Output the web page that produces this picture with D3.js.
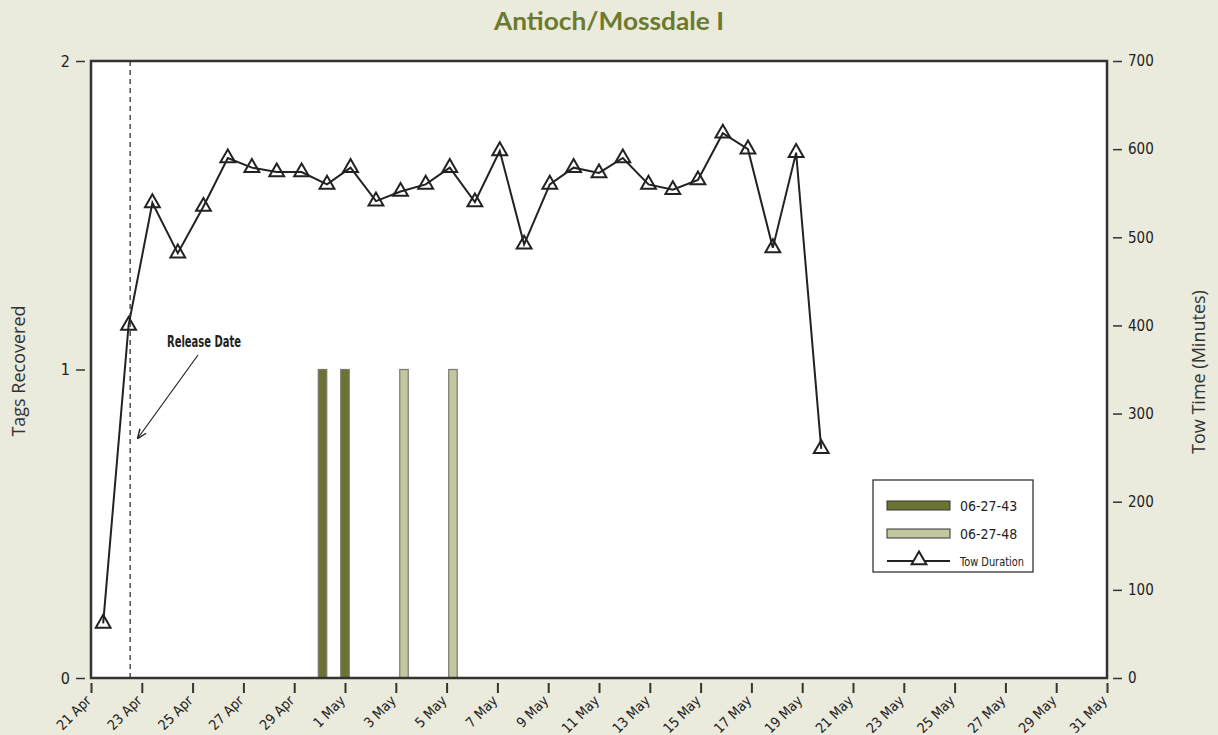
<!DOCTYPE html>
<html>
<head>
<meta charset="utf-8">
<script src="https://cdn.jsdelivr.net/npm/d3@7"></script>
<style>
  body { margin: 0; background: #eaeadd; }
  svg { display: block; }
  .cond, .cond text { font-family: "DejaVu Sans", sans-serif; font-stretch: condensed; }
</style>
</head>
<body>
<svg id="chart"></svg>
<script>
// tow times (minutes) with tow start times
var towDates = ["2006-04-21 11:30", "2006-04-22 11:30", "2006-04-23 10:00", "2006-04-24 10:00", "2006-04-25 10:15",
  "2006-04-26 09:15", "2006-04-27 08:00", "2006-04-28 07:30", "2006-04-29 07:00", "2006-04-30 07:00",
  "2006-05-01 05:15", "2006-05-02 05:15", "2006-05-03 04:30", "2006-05-04 04:15", "2006-05-05 03:00",
  "2006-05-06 02:45", "2006-05-07 02:15", "2006-05-08 01:15", "2006-05-09 01:30", "2006-05-10 00:00",
  "2006-05-11 00:00", "2006-05-11 22:30", "2006-05-12 22:45", "2006-05-13 21:45", "2006-05-14 21:30",
  "2006-05-15 21:00", "2006-05-16 20:45", "2006-05-17 20:15", "2006-05-18 18:15", "2006-05-19 18:00"];
var towMinutes = [62, 400, 539, 482, 535, 590, 579, 574, 574, 560,
  579, 541, 552, 560, 579, 540, 598, 492, 560, 579,
  573, 590, 560, 554, 565, 618, 600, 488, 596, 260];

// tag recoveries
var tag43Dates = ["2006-04-30 02:45", "2006-05-01 00:00"];
var tag43Counts = [1, 1];
var tag48Dates = ["2006-05-03 07:45", "2006-05-05 06:00"];
var tag48Counts = [1, 1];

var releaseDate = "2006-04-22 13:00";
var xTickLabels = ["2006-04-21", "2006-04-23", "2006-04-25", "2006-04-27", "2006-04-29", "2006-05-01",
  "2006-05-03", "2006-05-05", "2006-05-07", "2006-05-09", "2006-05-11", "2006-05-13", "2006-05-15",
  "2006-05-17", "2006-05-19", "2006-05-21", "2006-05-23", "2006-05-25", "2006-05-27", "2006-05-29", "2006-05-31"];
var leftTicks = [0, 1, 2];
var rightTicks = [0, 100, 200, 300, 400, 500, 600, 700];

var svgWidth = 1218;
var svgHeight = 735;
var plotLeft = 91, plotRight = 1107, plotTop = 61, plotBottom = 678;

var parseTime = d3.timeParse("%Y-%m-%d %H:%M");
var parseDay = d3.timeParse("%Y-%m-%d");

var svg = d3.select("#chart")
    .attr("width", svgWidth)
    .attr("height", svgHeight);

var x = d3.scaleTime()
    .domain([parseDay("2006-04-21"), parseDay("2006-05-31")])
    .range([plotLeft, plotRight]);
var yLeft = d3.scaleLinear().domain([0, 2]).range([plotBottom, plotTop]);
var yRight = d3.scaleLinear().domain([0, 700]).range([plotBottom, plotTop]);

// plot background
svg.append("rect")
    .attr("x", plotLeft).attr("y", plotTop)
    .attr("width", plotRight - plotLeft).attr("height", plotBottom - plotTop)
    .attr("fill", "#fff");

// title
svg.append("text")
    .attr("x", 609).attr("y", 30)
    .attr("text-anchor", "middle")
    .attr("font-family", "Lato, 'Open Sans', sans-serif")
    .attr("font-weight", "bold")
    .attr("font-size", "24px")
    .attr("textLength", 230)
    .attr("lengthAdjust", "spacingAndGlyphs")
    .attr("fill", "#6b7a2c")
    .text("Antioch/Mossdale I");

// release date line
svg.append("line")
    .attr("x1", x(parseTime(releaseDate))).attr("x2", x(parseTime(releaseDate)))
    .attr("y1", plotTop).attr("y2", plotBottom)
    .attr("stroke", "#333").attr("stroke-width", 1.3)
    .attr("stroke-dasharray", "5,4");

// bars
var barWidth = 8.5;
function drawBars(dates, counts, color) {
    svg.append("g").selectAll("rect")
        .data(counts)
        .enter()
        .append("rect")
        .attr("x", function(d, i) { return x(parseTime(dates[i])) - barWidth / 2; })
        .attr("y", function(d) { return yLeft(d); })
        .attr("width", barWidth)
        .attr("height", function(d) { return yLeft(0) - yLeft(d); })
        .attr("fill", color)
        .attr("stroke", "#7a7a72")
        .attr("stroke-width", 1.2);
}
drawBars(tag43Dates, tag43Counts, "#6c7332");
drawBars(tag48Dates, tag48Counts, "#c3c69f");

// tow duration line
var towData = towDates.map(function(d, i) { return { date: parseTime(d), value: towMinutes[i] }; });
var line = d3.line()
    .x(function(d) { return x(d.date); })
    .y(function(d) { return yRight(d.value); });

svg.append("path")
    .datum(towData)
    .attr("d", line)
    .attr("fill", "none")
    .attr("stroke", "#222")
    .attr("stroke-width", 2);

var tri = d3.symbol().type(d3.symbolTriangle).size(95);
svg.append("g").selectAll("path")
    .data(towData)
    .enter()
    .append("path")
    .attr("d", tri)
    .attr("transform", function(d) { return "translate(" + x(d.date) + "," + yRight(d.value) + ")"; })
    .attr("fill", "none")
    .attr("stroke", "#222")
    .attr("stroke-width", 2);

// frame
svg.append("rect")
    .attr("x", plotLeft).attr("y", plotTop)
    .attr("width", plotRight - plotLeft).attr("height", plotBottom - plotTop)
    .attr("fill", "none")
    .attr("stroke", "#333")
    .attr("stroke-width", 2.5);

// axes
var xAxis = svg.append("g")
    .attr("class", "cond")
    .attr("transform", "translate(0," + (plotBottom + 5) + ")")
    .call(d3.axisBottom(x)
        .tickValues(xTickLabels.map(parseDay))
        .tickFormat(d3.timeFormat("%-d %b"))
        .tickSize(10)
        .tickSizeOuter(0));
xAxis.select(".domain").remove();
xAxis.selectAll(".tick line").attr("stroke", "#333").attr("stroke-width", 2);
xAxis.selectAll(".tick text")
    .attr("x", 0).attr("y", 0).attr("dy", "0.35em")
    .attr("text-anchor", "end")
    .attr("transform", "translate(-3,15) rotate(-45)")
    .attr("font-size", "14px")
    .attr("fill", "#222");

var leftAxis = svg.append("g")
    .attr("class", "cond")
    .attr("transform", "translate(" + (plotLeft - 6) + ",0)")
    .call(d3.axisLeft(yLeft).tickValues(leftTicks).tickFormat(d3.format("d")).tickSize(9).tickPadding(6).tickSizeOuter(0));
leftAxis.select(".domain").remove();
leftAxis.selectAll(".tick line").attr("stroke", "#333").attr("stroke-width", 1.5);
leftAxis.selectAll(".tick text").attr("font-size", "16px").attr("fill", "#222");

var rightAxis = svg.append("g")
    .attr("class", "cond")
    .attr("transform", "translate(" + (plotRight + 6) + ",0)")
    .call(d3.axisRight(yRight).tickValues(rightTicks).tickSize(9).tickPadding(6).tickSizeOuter(0));
rightAxis.select(".domain").remove();
rightAxis.selectAll(".tick line").attr("stroke", "#333").attr("stroke-width", 1.5);
rightAxis.selectAll(".tick text").attr("font-size", "15px").attr("fill", "#222");

// axis titles
svg.append("text")
    .attr("transform", "translate(25," + 371 + ") rotate(-90)")
    .attr("text-anchor", "middle")
    .attr("font-family", "'Open Sans', sans-serif")
    .attr("font-size", "18px")
    .attr("fill", "#333")
    .text("Tags Recovered");
svg.append("text")
    .attr("transform", "translate(1205," + 372 + ") rotate(-90)")
    .attr("text-anchor", "middle")
    .attr("font-family", "'Open Sans', sans-serif")
    .attr("font-size", "18px")
    .attr("fill", "#333")
    .text("Tow Time (Minutes)");

// release date annotation
svg.append("defs").append("marker")
    .attr("id", "arrow")
    .attr("viewBox", "0 0 10 10")
    .attr("refX", 9).attr("refY", 5)
    .attr("markerWidth", 8).attr("markerHeight", 8)
    .attr("orient", "auto")
    .append("path")
    .attr("d", "M0,1 L10,5 L0,9")
    .attr("fill", "none")
    .attr("stroke", "#222")
    .attr("stroke-width", 1.5);
svg.append("line")
    .attr("x1", 198).attr("y1", 355)
    .attr("x2", 138).attr("y2", 438)
    .attr("stroke", "#222").attr("stroke-width", 1.2)
    .attr("marker-end", "url(#arrow)");
svg.append("text")
    .attr("class", "cond")
    .attr("x", 204).attr("y", 347)
    .attr("text-anchor", "middle")
    .attr("font-size", "15px")
    .attr("font-weight", "bold")
    .attr("textLength", 74)
    .attr("lengthAdjust", "spacingAndGlyphs")
    .attr("fill", "#222")
    .text("Release Date");

// legend
var legend = svg.append("g").attr("class", "cond");
legend.append("rect")
    .attr("x", 873).attr("y", 480).attr("width", 160).attr("height", 92)
    .attr("fill", "#fff").attr("stroke", "#333").attr("stroke-width", 1.3);
var legendItems = [
    { label: "06-27-43", color: "#6c7332" },
    { label: "06-27-48", color: "#c3c69f" }
];
legend.selectAll(".sw")
    .data(legendItems)
    .enter()
    .append("rect")
    .attr("x", 887)
    .attr("y", function(d, i) { return 501 + i * 28; })
    .attr("width", 63).attr("height", 9)
    .attr("fill", function(d) { return d.color; })
    .attr("stroke", "#333").attr("stroke-width", 1);
legend.selectAll(".lt")
    .data(legendItems)
    .enter()
    .append("text")
    .attr("x", 960)
    .attr("y", function(d, i) { return 506 + i * 28; })
    .attr("dy", "0.35em")
    .attr("font-size", "14px")
    .attr("fill", "#222")
    .text(function(d) { return d.label; });
legend.append("line")
    .attr("x1", 887).attr("x2", 950).attr("y1", 561).attr("y2", 561)
    .attr("stroke", "#222").attr("stroke-width", 2);
legend.append("path")
    .attr("d", tri)
    .attr("transform", "translate(919,560)")
    .attr("fill", "#fff").attr("stroke", "#222").attr("stroke-width", 2);
legend.append("text")
    .attr("x", 960).attr("y", 561).attr("dy", "0.35em")
    .attr("font-size", "13px")
    .attr("textLength", 64)
    .attr("lengthAdjust", "spacingAndGlyphs")
    .attr("fill", "#222")
    .text("Tow Duration");
</script>
</body>
</html>
